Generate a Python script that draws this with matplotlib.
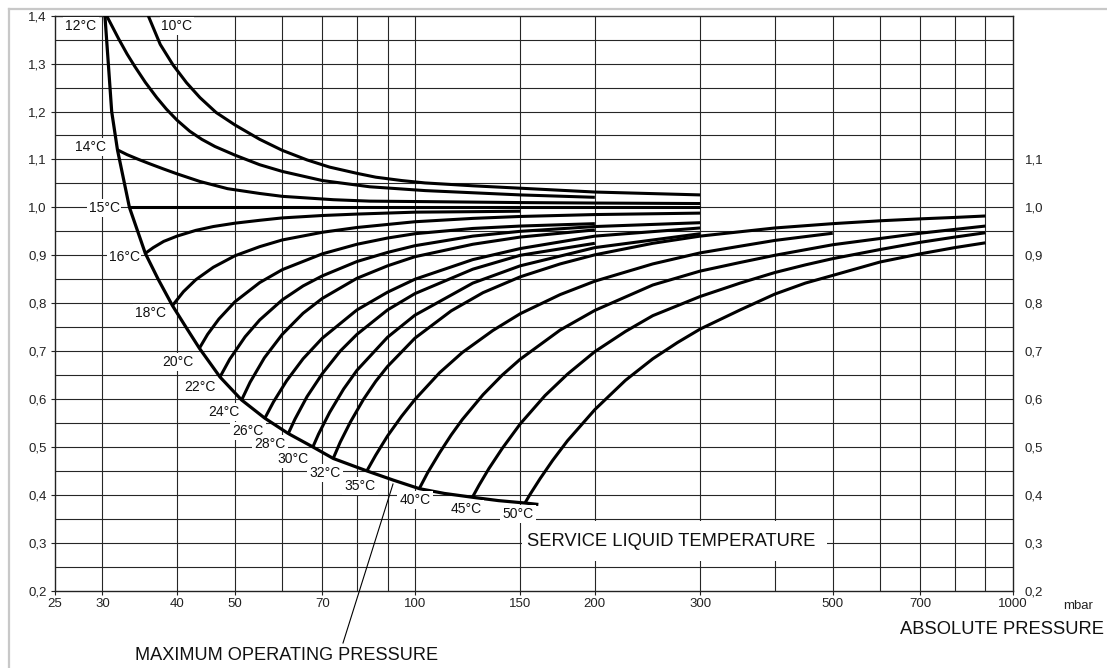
import matplotlib
matplotlib.use("Agg")
import matplotlib.pyplot as plt
import matplotlib.ticker as mticker
from matplotlib.patches import Rectangle
from matplotlib.lines import Line2D

plt.rcParams['font.family'] = ['Liberation Sans', 'DejaVu Sans']

W, H = 1107, 668

# ---------------- data ----------------
# absolute pressure (mbar) / correction factor
env_p = [30.3, 30.7, 31.1, 31.8, 33.3, 35.4, 37.2, 39.3, 41.4, 43.6, 47.2, 51.3, 56.1,
         61.4, 67.5, 73.0, 83.1, 91.9, 101.7, 112.0, 124.8, 138.0, 152.8, 160.9]
env_f = [1.40, 1.30, 1.20, 1.12, 1.00, 0.904, 0.850, 0.795, 0.750, 0.706, 0.646, 0.598, 0.560,
         0.528, 0.500, 0.476, 0.450, 0.431, 0.413, 0.403, 0.395, 0.388, 0.383, 0.380]

t10_p = [35.8, 37.5, 39.4, 41.5, 43.7, 46.5, 50.0, 55.0, 60.0, 66.0, 72.0, 80.0, 86.0, 95.0, 104.0, 125.0, 150.0, 200.0, 300.0]
t10_f = [1.400, 1.340, 1.297, 1.260, 1.229, 1.198, 1.172, 1.142, 1.119, 1.099, 1.084, 1.071, 1.063, 1.056, 1.051, 1.045, 1.040, 1.032, 1.026]

t12_p = [30.5, 31.0, 32.0, 33.0, 34.0, 35.4, 37.0, 38.4, 40.0, 42.0, 44.0, 46.3, 50.0, 55.0, 60.0, 70.0, 84.0, 104.0, 150.0, 200.0]
t12_f = [1.400, 1.383, 1.350, 1.320, 1.294, 1.261, 1.229, 1.205, 1.182, 1.159, 1.142, 1.127, 1.109, 1.089, 1.075, 1.056, 1.043, 1.035, 1.026, 1.021]

t14_p = [31.8, 33.0, 34.5, 36.0, 38.0, 40.0, 43.7, 48.6, 55.0, 60.0, 73.0, 84.0, 104.0, 150.0, 200.0, 300.0]
t14_f = [1.120, 1.110, 1.100, 1.091, 1.080, 1.070, 1.054, 1.039, 1.029, 1.023, 1.016, 1.013, 1.012, 1.010, 1.009, 1.008]

t15_p = [33.3, 300.0]
t15_f = [1.000, 1.000]

t16_p = [35.4, 36.5, 38.0, 40.0, 43.0, 46.0, 50.0, 55.0, 60.0, 70.0, 80.0, 100.0, 125.0, 150.0]
t16_f = [0.904, 0.916, 0.929, 0.940, 0.952, 0.960, 0.967, 0.973, 0.978, 0.983, 0.986, 0.990, 0.991, 0.992]

t18_p = [39.3, 41.0, 43.0, 46.0, 50.0, 55.0, 60.0, 70.0, 80.0, 100.0, 125.0, 150.0, 200.0, 300.0]
t18_f = [0.795, 0.824, 0.849, 0.875, 0.899, 0.918, 0.932, 0.948, 0.958, 0.970, 0.977, 0.981, 0.985, 0.988]

t20_p = [43.6, 45.0, 47.0, 50.0, 55.0, 60.0, 70.0, 80.0, 90.0, 100.0, 125.0, 150.0, 200.0]
t20_f = [0.706, 0.735, 0.767, 0.803, 0.843, 0.870, 0.903, 0.923, 0.936, 0.945, 0.956, 0.961, 0.966]

t22_p = [47.2, 49.0, 52.0, 55.0, 60.0, 65.0, 70.0, 80.0, 90.0, 100.0, 125.0, 150.0, 200.0, 300.0]
t22_f = [0.646, 0.683, 0.730, 0.765, 0.807, 0.836, 0.857, 0.887, 0.906, 0.920, 0.940, 0.950, 0.960, 0.968]

t24_p = [51.3, 53.0, 56.0, 60.0, 65.0, 70.0, 80.0, 90.0, 100.0, 125.0, 150.0, 200.0]
t24_f = [0.598, 0.635, 0.686, 0.735, 0.779, 0.810, 0.852, 0.878, 0.897, 0.923, 0.938, 0.953]

t26_p = [56.1, 58.0, 61.0, 65.0, 70.0, 80.0, 90.0, 100.0, 125.0, 150.0, 200.0, 300.0]
t26_f = [0.560, 0.594, 0.638, 0.684, 0.727, 0.786, 0.823, 0.850, 0.891, 0.914, 0.940, 0.957]

t28_p = [61.4, 63.0, 66.0, 70.0, 75.0, 80.0, 90.0, 100.0, 125.0, 150.0, 200.0]
t28_f = [0.528, 0.558, 0.605, 0.653, 0.700, 0.735, 0.786, 0.820, 0.871, 0.900, 0.925]

t30_p = [67.5, 69.0, 72.0, 76.0, 80.0, 90.0, 100.0, 125.0, 150.0, 200.0, 300.0]
t30_f = [0.500, 0.527, 0.572, 0.621, 0.660, 0.729, 0.775, 0.842, 0.878, 0.916, 0.945]

t32_p = [73.0, 75.0, 78.0, 82.0, 86.0, 90.0, 100.0, 115.0, 130.0, 150.0, 175.0, 200.0, 250.0, 300.0, 400.0, 500.0, 600.0, 700.0, 800.0, 900.0]
t32_f = [0.476, 0.510, 0.552, 0.599, 0.637, 0.668, 0.727, 0.784, 0.822, 0.855, 0.882, 0.901, 0.925, 0.940, 0.957, 0.966, 0.972, 0.976, 0.979, 0.982]

t35_p = [83.1, 86.0, 90.0, 95.0, 100.0, 110.0, 120.0, 135.0, 150.0, 175.0, 200.0, 250.0, 300.0, 350.0, 400.0, 450.0, 500.0]
t35_f = [0.450, 0.483, 0.523, 0.564, 0.599, 0.655, 0.697, 0.743, 0.778, 0.818, 0.846, 0.882, 0.905, 0.919, 0.931, 0.939, 0.946]

t40_p = [101.7, 105.0, 110.0, 115.0, 120.0, 130.0, 140.0, 150.0, 175.0, 200.0, 250.0, 300.0, 350.0, 400.0, 500.0, 600.0, 700.0, 800.0, 900.0]
t40_f = [0.413, 0.446, 0.488, 0.525, 0.557, 0.609, 0.650, 0.683, 0.744, 0.785, 0.838, 0.867, 0.885, 0.900, 0.922, 0.935, 0.946, 0.954, 0.961]

t45_p = [124.8, 128.0, 133.0, 140.0, 150.0, 165.0, 180.0, 200.0, 225.0, 250.0, 300.0, 350.0, 400.0, 450.0, 500.0, 600.0, 700.0, 800.0, 900.0]
t45_f = [0.395, 0.420, 0.455, 0.497, 0.548, 0.607, 0.652, 0.699, 0.741, 0.774, 0.814, 0.842, 0.864, 0.880, 0.893, 0.912, 0.927, 0.938, 0.947]

t50_p = [152.8, 156.0, 162.0, 170.0, 180.0, 200.0, 225.0, 250.0, 275.0, 300.0, 350.0, 400.0, 450.0, 500.0, 600.0, 700.0, 800.0, 900.0]
t50_f = [0.383, 0.402, 0.434, 0.472, 0.513, 0.578, 0.639, 0.684, 0.718, 0.746, 0.786, 0.819, 0.842, 0.858, 0.886, 0.903, 0.916, 0.926]

temp_labels = ["10°C", "12°C", "14°C", "15°C", "16°C", "18°C", "20°C", "22°C", "24°C",
               "26°C", "28°C", "30°C", "32°C", "35°C", "40°C", "45°C", "50°C"]

x_ticks = [25, 30, 40, 50, 70, 100, 150, 200, 300, 500, 700, 1000]
x_grid = [30, 40, 50, 60, 70, 80, 90, 100, 150, 200, 300, 400, 500, 600, 700, 800, 900]
y_ticks_left = [0.2, 0.3, 0.4, 0.5, 0.6, 0.7, 0.8, 0.9, 1.0, 1.1, 1.2, 1.3, 1.4]
y_ticks_right = [0.2, 0.3, 0.4, 0.5, 0.6, 0.7, 0.8, 0.9, 1.0, 1.1]
y_grid = [0.25, 0.3, 0.35, 0.4, 0.45, 0.5, 0.55, 0.6, 0.65, 0.7, 0.75, 0.8, 0.85,
          0.9, 0.95, 1.0, 1.05, 1.1, 1.15, 1.2, 1.25, 1.3, 1.35]

# label centres in figure pixels (layout only)
label_px = [(177, 26), (81, 26), (91, 147), (104, 208), (124, 257), (150, 313), (178, 362),
            (200, 387), (224, 412), (248, 431), (270, 444), (293, 459), (325, 473),
            (360, 486), (415, 500), (466, 509), (518, 514)]

curves_p = [t10_p, t12_p, t14_p, t15_p, t16_p, t18_p, t20_p, t22_p, t24_p,
            t26_p, t28_p, t30_p, t32_p, t35_p, t40_p, t45_p, t50_p]
curves_f = [t10_f, t12_f, t14_f, t15_f, t16_f, t18_f, t20_f, t22_f, t24_f,
            t26_f, t28_f, t30_f, t32_f, t35_f, t40_f, t45_f, t50_f]


def fmt(v):
    return f"{v:.1f}".replace(".", ",")


def fp(x, y):
    return (x / W, 1 - y / H)


fig = plt.figure(figsize=(W / 100, H / 100), dpi=100)
fig.patch.set_facecolor("white")

ax_l, ax_r, ax_t, ax_b = 55, 1012.7, 15.7, 590.7
ax = fig.add_axes([ax_l / W, 1 - ax_b / H, (ax_r - ax_l) / W, (ax_b - ax_t) / H])
ax.set_xscale("log")
ax.set_xlim(25, 1000)
ax.set_ylim(0.2, 1.4)

grid_col = "#262626"
for x in x_grid:
    ax.axvline(x, color=grid_col, lw=0.8, zorder=1)
for y in y_grid:
    ax.axhline(y, color=grid_col, lw=0.8, zorder=1)

for p, f in zip(curves_p, curves_f):
    ax.plot(p, f, color="black", lw=2.2, solid_capstyle="butt", solid_joinstyle="round", zorder=3)
ax.plot(env_p, env_f, color="black", lw=2.3, solid_capstyle="butt", solid_joinstyle="round", zorder=3)

for s in ax.spines.values():
    s.set_color("#222222")
    s.set_linewidth(1.0)

ax.set_xticks(x_ticks, labels=[str(v) for v in x_ticks])
ax.xaxis.set_minor_locator(mticker.NullLocator())
ax.set_yticks(y_ticks_left, labels=[fmt(v) for v in y_ticks_left])
ax.yaxis.set_minor_locator(mticker.NullLocator())
ax.tick_params(axis="x", direction="out", length=3, width=0.8, pad=2.3, labelsize=9.5, colors="#222222")
ax.tick_params(axis="y", direction="out", length=3, width=0.8, pad=3.0, labelsize=9.5, colors="#222222")

ax2 = ax.twinx()
ax2.set_ylim(0.2, 1.4)
ax2.set_yticks(y_ticks_right, labels=[fmt(v) for v in y_ticks_right])
ax2.yaxis.set_minor_locator(mticker.NullLocator())
ax2.tick_params(axis="y", length=0, pad=8.8, labelsize=9.5, colors="#222222")
for s in ax2.spines.values():
    s.set_visible(False)

# temperature labels with white backing
for lab, (px, py) in zip(temp_labels, label_px):
    fig.text(*fp(px, py), lab, ha="center", va="center", fontsize=10, color="#111111",
             bbox=dict(facecolor="white", edgecolor="none", pad=1.4), zorder=5)

# service liquid temperature caption (white box cuts the grid)
fig.add_artist(Rectangle(fp(522, 561), (827 - 522) / W, (561 - 521) / H,
                         transform=fig.transFigure, facecolor="white", edgecolor="none", zorder=4))
fig.text(*fp(527, 541), "SERVICE LIQUID TEMPERATURE", ha="left", va="center",
         fontsize=13.2, color="#111111", zorder=6)

# maximum operating pressure caption and leader
fig.add_artist(Line2D([343 / W, 393 / W], [1 - 643 / H, 1 - 484 / H],
                      transform=fig.transFigure, color="black", lw=0.8))
fig.text(*fp(135, 655), "MAXIMUM OPERATING PRESSURE", ha="left", va="center",
         fontsize=13.1, color="#111111")

fig.text(*fp(1063, 606), "mbar", ha="left", va="center", fontsize=9.5, color="#222222")
fig.text(*fp(900, 629), "ABSOLUTE PRESSURE", ha="left", va="center", fontsize=13.2, color="#111111")

# light grey page frame
fig.add_artist(Line2D([9 / W, 1], [1 - 9 / H, 1 - 9 / H], transform=fig.transFigure,
                      color="#c8c8c8", lw=1.6))
fig.add_artist(Line2D([9 / W, 9 / W], [0, 1 - 9 / H], transform=fig.transFigure,
                      color="#c8c8c8", lw=1.6))

fig.savefig("out.png", dpi=100, facecolor="white")
